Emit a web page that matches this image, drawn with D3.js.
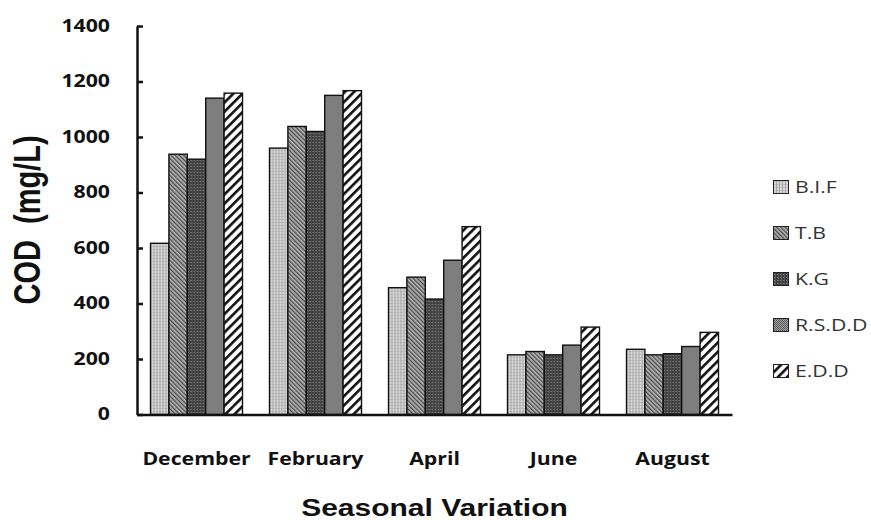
<!DOCTYPE html>
<html>
<head>
<meta charset="utf-8">
<script src="https://cdn.jsdelivr.net/npm/d3@7"></script>
<style>
  body { margin: 0; background: #fff; }
  svg { display: block; }
</style>
</head>
<body>
<svg width="871" height="520"></svg>
<script>
var months = ["December", "February", "April", "June", "August"];
var sites = ["B.I.F", "T.B", "K.G", "R.S.D.D", "E.D.D"];

// COD (mg/L) for each site, one value per month
var bif  = [617, 960, 457, 215, 235];
var tb   = [938, 1038, 495, 227, 215];
var kg   = [920, 1020, 416, 215, 219];
var rsdd = [1140, 1150, 556, 250, 245];
var edd  = [1158, 1167, 677, 315, 296];

var yTicks = [0, 200, 400, 600, 800, 1000, 1200, 1400];

var series = [bif, tb, kg, rsdd, edd];
var patternIds = ["pBif", "pTb", "pKg", "pRsdd", "pEdd"];

var svg = d3.select("svg");
var sx = 1.25; // text in the picture is stretched sideways

var margin = {left: 137, right: 139, top: 26, bottom: 105.5};
var x0 = margin.left, x1 = 871 - margin.right;
var yBase = 520 - margin.bottom;

var x = d3.scaleBand()
    .domain(months)
    .range([x0, x1])
    .paddingInner(0.227)
    .paddingOuter(0.1135);

var xs = d3.scaleBand()
    .domain(sites)
    .range([0, x.bandwidth()]);

var y = d3.scaleLinear()
    .domain([0, 1400])
    .range([yBase, margin.top]);

// fill patterns
var defs = svg.append("defs");

var p = defs.append("pattern").attr("id", "pBif")
    .attr("patternUnits", "userSpaceOnUse").attr("width", 3).attr("height", 3);
p.append("rect").attr("width", 3).attr("height", 3).attr("fill", "#d8d8d8");
p.append("rect").attr("width", 1).attr("height", 3).attr("fill", "#a4a4a4");
p.append("rect").attr("x", 1).attr("width", 2).attr("height", 1).attr("fill", "#c0c0c0");

p = defs.append("pattern").attr("id", "pTb")
    .attr("patternUnits", "userSpaceOnUse").attr("width", 3).attr("height", 3)
    .attr("patternTransform", "rotate(-45)");
p.append("rect").attr("width", 3).attr("height", 3).attr("fill", "#b4b4b4");
p.append("rect").attr("width", 1.3).attr("height", 3).attr("fill", "#4a4a4a");

p = defs.append("pattern").attr("id", "pKg")
    .attr("patternUnits", "userSpaceOnUse").attr("width", 3).attr("height", 3);
p.append("rect").attr("width", 3).attr("height", 3).attr("fill", "#3a3a3a");
p.append("rect").attr("x", 1).attr("y", 1).attr("width", 1).attr("height", 1).attr("fill", "#8a8a8a");
p.append("rect").attr("x", 2).attr("width", 1).attr("height", 3).attr("fill", "#555");

p = defs.append("pattern").attr("id", "pRsdd")
    .attr("patternUnits", "userSpaceOnUse").attr("width", 2).attr("height", 2);
p.append("rect").attr("width", 2).attr("height", 2).attr("fill", "#a6a6a6");
p.append("rect").attr("width", 1).attr("height", 1).attr("fill", "#555");
p.append("rect").attr("x", 1).attr("y", 1).attr("width", 1).attr("height", 1).attr("fill", "#555");

p = defs.append("pattern").attr("id", "pEdd")
    .attr("patternUnits", "userSpaceOnUse").attr("width", 6.5).attr("height", 6.5)
    .attr("patternTransform", "rotate(45)");
p.append("rect").attr("width", 6.5).attr("height", 6.5).attr("fill", "#fff");
p.append("rect").attr("width", 2.6).attr("height", 6.5).attr("fill", "#111");

// bars
var groups = svg.append("g").selectAll("g")
    .data(months)
    .enter().append("g")
    .attr("transform", d => "translate(" + x(d) + ",0)");

groups.selectAll("rect")
    .data((m, i) => sites.map((s, j) => ({site: s, k: j, value: series[j][i]})))
    .enter().append("rect")
    .attr("x", d => xs(d.site))
    .attr("y", d => y(d.value))
    .attr("width", xs.bandwidth())
    .attr("height", d => yBase - y(d.value))
    .attr("fill", d => "url(#" + patternIds[d.k] + ")")
    .attr("stroke", "#111")
    .attr("stroke-width", 1.4);

// y axis
var yAxis = svg.append("g")
    .attr("transform", "translate(" + x0 + ",0)")
    .call(d3.axisLeft(y).tickValues(yTicks).tickSize(-6).tickSizeOuter(0).tickFormat(d3.format("d")));
yAxis.select(".domain").attr("stroke", "#111").attr("stroke-width", 2.5);
yAxis.selectAll(".tick line").attr("stroke", "#111").attr("stroke-width", 2.5);
yAxis.selectAll(".tick text")
    .attr("x", -27 / sx)
    .attr("transform", "scale(" + sx + ",1)")
    .style("font-family", "'Open Sans', sans-serif")
    .style("font-weight", "bold")
    .style("font-size", "17px")
    .attr("fill", "#111");

// x axis
var xAxis = svg.append("g")
    .attr("transform", "translate(0," + yBase + ")")
    .call(d3.axisBottom(x).tickSize(0).tickSizeOuter(0));
xAxis.select(".domain").attr("stroke", "#111").attr("stroke-width", 2.5);
xAxis.selectAll(".tick text")
    .attr("dy", null)
    .attr("y", 50.5)
    .attr("transform", "scale(" + sx + ",1)")
    .style("font-family", "'Open Sans', sans-serif")
    .style("font-weight", "bold")
    .style("font-size", "17px")
    .attr("fill", "#111");
// the scale(…) on a tick moves its x too, so undo it for the centre
xAxis.selectAll(".tick").each(function(d) {
    d3.select(this).attr("transform", "translate(" + (x(d) + x.bandwidth() / 2) + ",0)");
});

// axis titles
svg.append("text")
    .attr("transform", "translate(" + ((x0 + x1) / 2) + ",516) scale(" + sx + ",1)")
    .attr("text-anchor", "middle")
    .style("font-family", "'Liberation Sans', Arial, sans-serif")
    .style("font-weight", "bold")
    .style("font-size", "24px")
    .attr("fill", "#111")
    .text("Seasonal Variation");

svg.append("text")
    .attr("transform", "translate(40,220) scale(" + sx + ",1) rotate(-90)")
    .attr("text-anchor", "middle")
    .style("font-family", "'Liberation Sans', Arial, sans-serif")
    .style("font-weight", "bold")
    .style("font-size", "29px")
    .style("white-space", "pre")
    .attr("fill", "#111")
    .text("COD  (mg/L)");

// legend
var legend = svg.append("g").selectAll("g")
    .data(sites)
    .enter().append("g")
    .attr("transform", (d, i) => "translate(773," + (187 + i * 46) + ")");

legend.append("rect")
    .attr("x", 0.5).attr("y", -6.5)
    .attr("width", 15).attr("height", 13)
    .attr("fill", (d, i) => "url(#" + patternIds[i] + ")")
    .attr("stroke", "#222")
    .attr("stroke-width", 1);

legend.append("text")
    .attr("x", 22 / sx)
    .attr("y", 6)
    .attr("transform", "scale(" + sx + ",1)")
    .style("font-family", "'Open Sans', sans-serif")
    .style("font-size", "17px")
    .attr("fill", "#333")
    .text(d => d);
</script>
</body>
</html>
